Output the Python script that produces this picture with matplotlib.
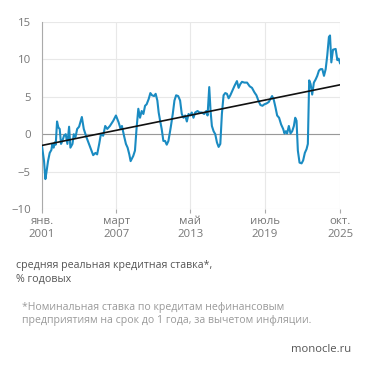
import numpy as np
import matplotlib.pyplot as plt

# Real lending rate, % per year (readings from the chart, decimal years)
years = [2001.00, 2001.17, 2001.28, 2001.36, 2001.50, 2001.64, 2001.78, 2001.86, 2001.97,
         2002.06, 2002.14, 2002.25, 2002.36, 2002.47, 2002.58, 2002.69, 2002.83, 2002.97,
         2003.11, 2003.25, 2003.36, 2003.53, 2003.64, 2003.78, 2003.92, 2004.08, 2004.31,
         2004.47, 2004.69, 2004.97, 2005.25, 2005.44, 2005.58, 2005.75, 2005.89, 2006.08,
         2006.25, 2006.42, 2006.64, 2006.92, 2007.14, 2007.36, 2007.53, 2007.64, 2007.81,
         2007.97, 2008.11, 2008.25, 2008.36, 2008.58, 2008.72, 2008.86, 2009.00, 2009.14,
         2009.28, 2009.42, 2009.56, 2009.69, 2009.86, 2010.00, 2010.14, 2010.31, 2010.44,
         2010.58, 2010.69, 2010.81, 2010.94, 2011.08, 2011.22, 2011.36, 2011.50, 2011.69,
         2011.86, 2012.00, 2012.14, 2012.31, 2012.47, 2012.61, 2012.75, 2012.89, 2013.03,
         2013.17, 2013.31, 2013.44, 2013.58, 2013.72, 2013.92, 2014.08, 2014.28, 2014.47,
         2014.64, 2014.75, 2014.89, 2015.00, 2015.11, 2015.25, 2015.39, 2015.53, 2015.67,
         2015.81, 2015.94, 2016.08, 2016.22, 2016.36, 2016.50, 2016.64, 2016.81, 2017.00,
         2017.19, 2017.33, 2017.47, 2017.61, 2017.81, 2018.03, 2018.25, 2018.44, 2018.64,
         2018.81, 2018.97, 2019.14, 2019.31, 2019.47, 2019.64, 2019.83, 2019.97, 2020.11,
         2020.25, 2020.39, 2020.53, 2020.69, 2020.86, 2021.03, 2021.14, 2021.25, 2021.36,
         2021.50, 2021.64, 2021.78, 2021.92, 2022.03, 2022.14, 2022.25, 2022.39, 2022.56,
         2022.69, 2022.83, 2022.97, 2023.08, 2023.19, 2023.31, 2023.44, 2023.58, 2023.72,
         2023.86, 2024.00, 2024.14, 2024.28, 2024.42, 2024.56, 2024.69, 2024.83, 2024.92,
         2025.03, 2025.17, 2025.39, 2025.53, 2025.64, 2025.75]
rate = [-1.6, -3.6, -6.0, -5.2, -3.6, -2.5, -2.1, -1.3, -1.8,
        -1.1, -1.4, 1.7, 0.9, 0.7, -1.3, -0.9, -0.2, 0.0,
        -1.3, 1.0, -1.8, -1.3, 0.0, -0.4, 0.7, 1.0, 2.3,
        0.7, -0.4, -1.6, -2.8, -2.5, -2.7, -1.3, 0.0, -0.2,
        1.1, 0.7, 1.1, 1.8, 2.5, 1.6, 0.7, 1.1, -0.2,
        -1.3, -1.8, -2.7, -3.6, -2.9, -2.2, 0.9, 3.4, 2.2,
        3.1, 2.7, 3.8, 4.0, 4.7, 5.5, 5.2, 5.1, 5.4,
        4.5, 2.9, 1.8, 0.7, -0.9, -0.9, -1.4, -0.9, 0.9,
        2.7, 4.5, 5.2, 5.1, 4.5, 2.7, 2.2, 2.5, 1.7,
        2.7, 2.5, 2.9, 2.2, 2.9, 3.1, 2.9, 2.9, 2.7,
        3.1, 2.5, 6.3, 3.1, 1.1, 0.4, 0.0, -1.1, -1.7,
        -1.3, 2.7, 5.2, 5.5, 5.4, 4.8, 5.2, 5.8, 6.5,
        7.1, 6.2, 6.7, 7.0, 6.9, 6.9, 6.4, 6.2, 5.6,
        5.2, 4.5, 3.9, 3.8, 4.0, 4.1, 4.3, 4.7, 5.1,
        4.6, 3.6, 2.5, 2.2, 1.3, 0.7, 0.1, 0.4, 0.1,
        1.1, 0.1, 0.4, 1.1, 2.2, 1.8, -2.2, -3.8, -3.9,
        -3.5, -2.5, -2.0, -1.3, 7.2, 6.7, 5.3, 6.9, 7.3,
        7.8, 8.5, 8.7, 8.7, 7.8, 8.7, 10.5, 13.0, 13.2,
        9.6, 11.3, 11.4, 9.9, 10.1, 9.5]

# Linear trend, endpoints
trend_years = [2001.0, 2025.75]
trend_vals = [-1.5, 6.6]

tick_pos = [2001.0, 2007 + 2/12, 2013 + 4/12, 2019.5, 2025.75]
tick_labels = ['янв.\n2001', 'март\n2007', 'май\n2013', 'июль\n2019', 'окт.\n2025']

plt.rcParams['font.family'] = ['Open Sans', 'DejaVu Sans']

fig = plt.figure(figsize=(3.71, 3.71), dpi=100)
ax = fig.add_axes([42/371, 1 - 209/371, 298/371, 187/371])

ax.plot(years, rate, color='#1a8bc2', lw=1.5, zorder=3)
ax.plot(trend_years, trend_vals, color='#111111', lw=1.2, zorder=4)
ax.axhline(0, color='#999999', lw=0.8, zorder=2)

ax.set_xlim(2001.0, 2025.75)
ax.set_ylim(-10, 15)
ax.set_yticks([-10, -5, 0, 5, 10, 15])
ax.set_xticks(tick_pos)
ax.set_xticklabels(tick_labels)
ax.grid(True, color='#e8e8e8', lw=0.8, zorder=1)
for s in ['top', 'right', 'bottom']:
    ax.spines[s].set_visible(False)
ax.spines['left'].set_color('#aaaaaa')
ax.spines['left'].set_linewidth(0.8)
ax.tick_params(axis='y', length=0, colors='#777777', labelsize=8.2, pad=8)
ax.tick_params(axis='x', length=3, color='#aaaaaa', colors='#777777', labelsize=8.2, pad=2)
for lbl in ax.get_xticklabels():
    lbl.set_linespacing(1.2)

# caption lines
def put(x, y, s, **kw):
    fig.text(x/371, 1 - y/371, s, va='baseline', **kw)

put(16, 268, 'средняя реальная кредитная ставка*,', color='#555555', fontsize=7.7)
put(16, 282, '% годовых', color='#555555', fontsize=7.7)
put(22, 310, '*Номинальная ставка по кредитам нефинансовым', color='#9a9a9a', fontsize=7.6)
put(22, 323, 'предприятиям на срок до 1 года, за вычетом инфляции.', color='#9a9a9a', fontsize=7.6)
put(351, 352, 'monocle.ru', color='#555555', fontsize=8.1, ha='right')

plt.savefig('out.png', dpi=100)
